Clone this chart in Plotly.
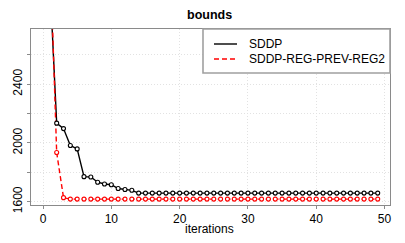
import plotly.graph_objects as go

iterations = list(range(1, 50))
sddp = [3100, 2134, 2097, 1982, 1959, 1770, 1768, 1732, 1720, 1715, 1689, 1682, 1677,
        1658, 1658, 1658, 1658, 1658, 1658, 1658, 1658, 1658, 1658, 1658, 1658,
        1658, 1658, 1658, 1658, 1658, 1658, 1658, 1658, 1658, 1658, 1658, 1658,
        1658, 1658, 1658, 1658, 1658, 1658, 1658, 1658, 1658, 1658, 1658, 1658]
sddp_reg = [3350, 1934, 1627,
            1617, 1617, 1617, 1617, 1617, 1617, 1617, 1617, 1617, 1617, 1617, 1617,
            1617, 1617, 1617, 1617, 1617, 1617, 1617, 1617, 1617, 1617, 1617, 1617,
            1617, 1617, 1617, 1617, 1617, 1617, 1617, 1617, 1617, 1617, 1617, 1617,
            1617, 1617, 1617, 1617, 1617, 1617, 1617, 1617, 1617, 1617]
names = ["SDDP", "SDDP-REG-PREV-REG2"]
colors = ["black", "red"]
dashes = ["solid", "5px,3px"]
y_tickvals = [1600, 1800, 2000, 2200, 2400, 2600]
y_ticktext = ["1600", "", "2000", "", "2400", ""]
x_tickvals = [0, 10, 20, 30, 40, 50]

FONT = "Liberation Sans, Arial, sans-serif"
W, H = 405, 243
L, R, T, B = 31, 15, 29, 38
PW, PH = W - L - R, H - T - B


def px(x):
    return (x - L) / PW


def py(y):
    return (H - B - y) / PH


fig = go.Figure()
for ys, c, d in zip([sddp, sddp_reg], colors, dashes):
    fig.add_trace(go.Scatter(x=iterations, y=ys, mode="lines", showlegend=False,
                             line=dict(color=c, width=1.4, dash=d)))
for ys, c in zip([sddp, sddp_reg], colors):
    fig.add_trace(go.Scatter(x=iterations, y=ys, mode="markers", showlegend=False,
                             marker=dict(symbol="circle", size=4, color="white",
                                         line=dict(color=c, width=1.1))))

shapes = [dict(type="rect", xref="paper", yref="paper",
               x0=px(203), x1=1.0, y0=py(73), y1=1.0,
               fillcolor="white", line=dict(color="#a0a0a0", width=1.6),
               layer="above")]
annotations = [dict(text="<b>bounds</b>", xref="paper", yref="paper",
                    x=px(209.5), y=py(15), xanchor="center", yanchor="middle",
                    showarrow=False, font=dict(size=12.5))]
for i, (n, c, d) in enumerate(zip(names, colors, dashes)):
    yy = 44 + 15 * i
    shapes.append(dict(type="line", xref="paper", yref="paper",
                       x0=px(214), x1=px(237), y0=py(yy), y1=py(yy),
                       line=dict(color=c, width=1.4, dash=d), layer="above"))
    annotations.append(dict(text=n, xref="paper", yref="paper",
                            x=px(247), y=py(yy), xanchor="left", yanchor="middle",
                            showarrow=False, font=dict(size=12)))
annotations.append(dict(text="iterations", xref="paper", yref="paper",
                        x=px(209.5), y=py(229), xanchor="center", yanchor="middle",
                        showarrow=False, font=dict(size=12)))

fig.update_layout(
    width=W, height=H,
    margin=dict(l=L, r=R, t=T, b=B),
    paper_bgcolor="white", plot_bgcolor="white",
    font=dict(family=FONT, size=12, color="black"),
    showlegend=False,
    shapes=shapes, annotations=annotations,
    xaxis=dict(range=[-1.76, 50.8], tickvals=x_tickvals, automargin=False,
               showgrid=True, gridcolor="#e2e2e2", griddash="1px,2px", gridwidth=1,
               zeroline=False, showline=True, linecolor="#8a8a8a", linewidth=1,
               mirror=True, ticks="outside", ticklen=3, tickcolor="#8a8a8a",
               tickfont=dict(size=12)),
    yaxis=dict(range=[1577, 2775], tickvals=y_tickvals, ticktext=y_ticktext,
               tickangle=-90, automargin=False,
               showgrid=True, gridcolor="#e2e2e2", griddash="1px,2px", gridwidth=1,
               zeroline=False, showline=True, linecolor="#8a8a8a", linewidth=1,
               mirror=True, ticks="outside", ticklen=3, tickcolor="#8a8a8a",
               tickfont=dict(size=12)),
)

fig.write_html("out.html", config={"displayModeBar": False},
               post_script="document.body.style.margin='0';document.body.style.overflow='hidden';")
